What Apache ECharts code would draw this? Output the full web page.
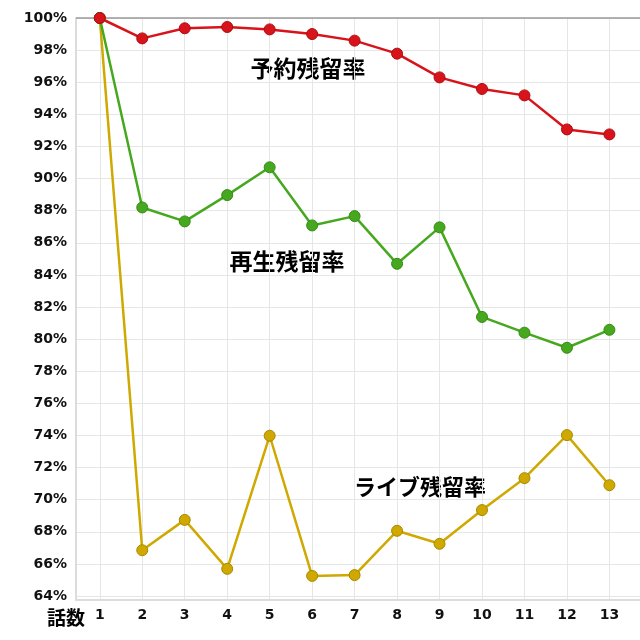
<!DOCTYPE html>
<html><head><meta charset="utf-8">
<script src="https://cdn.jsdelivr.net/npm/echarts@6/dist/echarts.min.js"></script>
<style>html,body{margin:0;padding:0;background:#fff}#c{width:640px;height:640px}</style>
</head><body><div id="c"></div>
<script>
const episodes = [1,2,3,4,5,6,7,8,9,10,11,12,13];
const reservation = [100, 98.73, 99.36, 99.44, 99.29, 99.0, 98.59, 97.78, 96.30, 95.58, 95.18, 93.06, 92.75];
const playback = [100, 88.2, 87.33, 88.97, 90.70, 87.08, 87.66, 84.69, 86.96, 81.38, 80.4, 79.46, 80.58];
const live = [100, 66.85, 68.74, 65.69, 73.98, 65.25, 65.30, 68.06, 67.25, 69.35, 71.34, 74.02, 70.9];
const seriesNames = ['予約残留率','再生残留率','ライブ残留率'];
const xAxisName = '話数';

const chart = echarts.init(document.getElementById('c'));
const pts = arr => arr.map((v,i)=>[episodes[i], v]);
const mk = (name, data, color, border) => ({
  name, type:'line', data: pts(data), symbol:'circle', symbolSize:11,
  lineStyle:{color, width:2.5}, itemStyle:{color, borderColor:border, borderWidth:1},
  z:3
});
const s1 = mk(seriesNames[0], reservation, '#d9131a', '#a80d12');
s1.markLine = {silent:true, symbol:'none', label:{show:false}, lineStyle:{color:'#999', width:1.5, type:'solid'}, data:[{yAxis:100}], z:1};
chart.setOption({
  animation:false,
  textStyle:{fontFamily:'DejaVu Sans'},
  grid:{left:76, right:-5, top:18, bottom:40},
  xAxis:{type:'value', min:0.44, max:13.72, minInterval:1, maxInterval:1, splitNumber:13,
    axisLine:{show:true, onZero:false, lineStyle:{color:'#dcdcdc', width:2}},
    axisTick:{show:false},
    axisLabel:{showMinLabel:false, showMaxLabel:false, color:'#111', fontWeight:'bold', fontSize:14, margin:8, fontFamily:'DejaVu Sans'},
    splitLine:{show:true, lineStyle:{color:'#e6e6e6', width:1}}
  },
  yAxis:{type:'value', min:63.75, max:100, minInterval:2, maxInterval:2, splitNumber:18,
    axisLine:{show:true, lineStyle:{color:'#dcdcdc', width:2}},
    axisTick:{show:false},
    axisLabel:{showMinLabel:false, formatter:'{value}%', color:'#111', fontWeight:'bold', fontSize:14, margin:9, fontFamily:'DejaVu Sans'},
    splitLine:{show:true, lineStyle:{color:'#e6e6e6', width:1}}
  },
  series:[
    mk(seriesNames[2], live, '#cfa800', '#a88800'),
    mk(seriesNames[1], playback, '#46a81f', '#358a14'),
    s1
  ],
  graphic:[
    {type:'text', style:{text:seriesNames[0], x:308, y:68, align:'center', verticalAlign:'middle', font:'bold 23px "Noto Sans CJK JP"', fill:'#000'}},
    {type:'text', style:{text:seriesNames[1], x:287, y:261, align:'center', verticalAlign:'middle', font:'bold 23px "Noto Sans CJK JP"', fill:'#000'}},
    {type:'text', style:{text:seriesNames[2], x:420, y:487, align:'center', verticalAlign:'middle', font:'bold 22px "Noto Sans CJK JP"', fill:'#000'}},
    {type:'text', style:{text:xAxisName, x:66, y:618, align:'center', verticalAlign:'middle', font:'bold 19px "Noto Sans CJK JP"', fill:'#000'}}
  ]
});
</script></body></html>
